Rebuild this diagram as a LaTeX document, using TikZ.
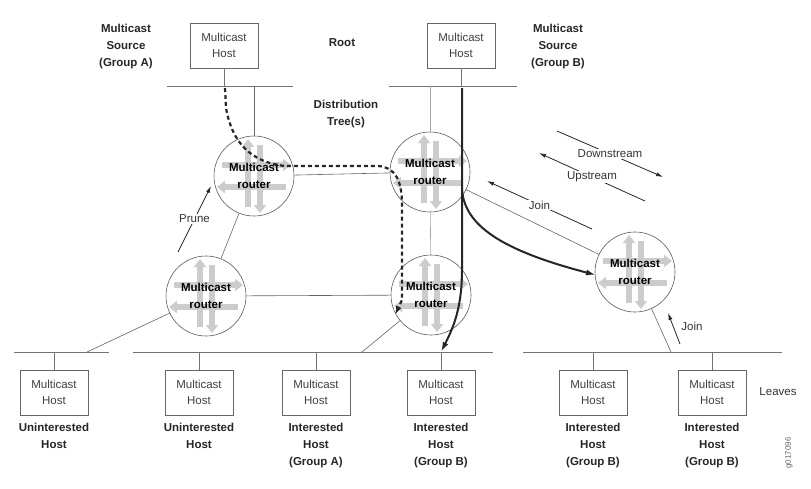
\documentclass[tikz,border=0pt]{standalone}
\usepackage{fontspec}
\setmainfont{Liberation Sans}
\usepackage{tikz}
\usetikzlibrary{arrows}
\usetikzlibrary{arrows.meta}
\usetikzlibrary{backgrounds}
\usetikzlibrary{calc}
\usetikzlibrary{positioning}

\tikzset{
  host/.style={draw=black!60, line width=0.6pt, minimum width=68pt, minimum height=45pt,
    inner sep=0pt, align=center, text=black!75, font=\fontsize{11.5}{16}\selectfont},
  router/.style={circle, draw=black!65, line width=0.6pt, minimum size=80pt, inner sep=0pt,
    align=center, font=\fontsize{11.5}{17}\selectfont\bfseries},
  lbl/.style={align=center, text=black!85, font=\fontsize{11.5}{17}\selectfont\bfseries},
  txt/.style={align=center, text=black!80, font=\fontsize{11.5}{16}\selectfont},
  lan/.style={draw=black!55, line width=0.7pt},
  link/.style={draw=black!60, line width=0.6pt},
  icon/.style={draw=black!20, line width=5.5pt, -{Triangle[length=8pt,width=12pt]}},
  dir/.style={draw=black!85, line width=0.8pt, -{Latex[length=7pt,width=4pt]}},
  grpA/.style={draw=black!85, line width=2.2pt, dash pattern=on 4pt off 3pt,
    -{Latex[length=9pt,width=6pt]}},
  grpB/.style={draw=black!85, line width=2pt, -{Latex[length=10pt,width=6pt]}}
}

\newcommand{\rtricon}[1]{
  \begin{scope}[shift={(#1)}]
    \draw[icon] (-6,31) -- (-6,-37);
    \draw[icon] (6,-31) -- (6,37);
    \draw[icon] (-32,-11) -- (37,-11);
    \draw[icon] (32,11) -- (-37,11);
  \end{scope}
}

\begin{document}
\begin{tikzpicture}[x=1pt, y=-1pt, >=latex]
\useasboundingbox (0,0) rectangle (811,488);

%Sources
\node[host] (srcA) at (224,45.5) {Multicast\\Host};
\node[host] (srcB) at (461,45.5) {Multicast\\Host};
\coordinate (lanAw) at (167,86);
\coordinate (lanAe) at (293,86);
\coordinate (lanBw) at (389,86);
\coordinate (lanBe) at (517,86);
\draw[lan] (lanAw) -- (lanAe);
\draw[lan] (lanBw) -- (lanBe);
\draw[lan] (srcA.south) -- (srcA.south |- lanAw);
\draw[lan] (srcB.south) -- (srcB.south |- lanBw);

\node[lbl] (srcAlbl) at (126,47) {Multicast\\Source\\(Group A)};
\node[lbl] (srcBlbl) at (558,47) {Multicast\\Source\\(Group B)};
\node[lbl] (root) at (342,43) {Root};
\node[lbl] (tree) at (346,114) {Distribution\\Tree(s)};

%Routers
\node[router] (r1) at (254,176) {Multicast\\router};
\node[router] (r2) at (430,172) {Multicast\\router};
\node[router] (r3) at (206,296) {Multicast\\router};
\node[router] (r4) at (431,295) {Multicast\\router};
\node[router] (r5) at (635,272) {Multicast\\router};
\begin{scope}[on background layer]
  \foreach \r in {r1,r2,r3,r4,r5} {
    \rtricon{\r}
  }
\end{scope}

\draw[link] (r1.north) -- (r1.north |- lanAw);
\draw[link, draw=black!35] (r2.north) -- (r2.north |- lanBw);
\draw[link] (r1) -- (r2);
\draw[link] (r1) -- (r3);
\draw[link] (r3) -- (r4);
\draw[link, draw=black!35] (r2) -- (r4);
\draw[link] (r2) -- (r5);

%Leaves
\coordinate (lan1w) at (14,352);
\coordinate (lan1e) at (109,352);
\coordinate (lan2w) at (133,352);
\coordinate (lan2e) at (493,352);
\coordinate (lan3w) at (523,352);
\coordinate (lan3e) at (782,352);
\draw[lan] (lan1w) -- (lan1e);
\draw[lan] (lan2w) -- (lan2e);
\draw[lan] (lan3w) -- (lan3e);

\foreach \n/\x in {1/54,2/199,3/316,4/441,5/593,6/712} {
  \node[host] (h\n) at (\x,392.5) {Multicast\\Host};
  \draw[lan] (h\n.north) -- (h\n.north |- lan1w);
}

\coordinate (t1) at (87,352);
\coordinate (t2) at (362,352);
\coordinate (t3) at (671,352);
\draw[link] (r3) -- (t1);
\draw[link] (r4) -- (t2);
\draw[link] (r5) -- (t3);

\node[lbl, anchor=north] (l1) at (54,420) {Uninterested\\Host};
\node[lbl, anchor=north] (l2) at (199,420) {Uninterested\\Host};
\node[lbl, anchor=north] (l3) at (316,420) {Interested\\Host\\(Group A)};
\node[lbl, anchor=north] (l4) at (441,420) {Interested\\Host\\(Group B)};
\node[lbl, anchor=north] (l5) at (593,420) {Interested\\Host\\(Group B)};
\node[lbl, anchor=north] (l6) at (712,420) {Interested\\Host\\(Group B)};
\node[txt] (leaves) at (778,392) {Leaves};
\node[rotate=90, text=black!60, font=\fontsize{8}{8}\selectfont] (fig) at (789,453) {g017096};

%Direction arrows
\coordinate (dsA) at (557,131);
\coordinate (dsB) at (663,177);
\coordinate (usA) at (645,201);
\coordinate (usB) at (539,153);
\coordinate (jnA) at (592,229);
\coordinate (jnB) at (487,181);
\coordinate (prA) at (178,252);
\coordinate (prB) at (211,186);
\coordinate (jn2A) at (680,344);
\coordinate (jn2B) at (668,313);
\draw[dir] (dsA) -- node[txt, fill=white, inner sep=1pt] (ds) {Downstream} (dsB);
\draw[dir] (usA) -- node[txt, fill=white, inner sep=1pt] (us) {Upstream} (usB);
\draw[dir] (jnA) -- node[txt, fill=white, inner sep=1pt] (jn) {Join} (jnB);
\draw[dir] (prA) -- node[txt, fill=white, inner sep=1pt] (pr) {Prune} (prB);
\draw[dir] (jn2A) -- (jn2B);
\node[txt] (jn2) at (692,326) {Join};

%Group A tree
\coordinate (gA0) at (225,88);
\coordinate (gA1) at (395,315);
\draw[grpA] (gA0) -- (226,108) .. controls (232,142) and (250,162) .. (285,166)
  -- (378,166) .. controls (395,167) and (402,180) .. (402,205) -- (402,300) -- (gA1);

%Group B tree
\coordinate (gB0) at (462,88);
\coordinate (gBs) at (462,190);
\coordinate (gB1) at (h4.north |- lan2w);
\coordinate (gB2) at (596,275);
\draw[grpB] (gB0) -- (462,270) .. controls (462,310) and (452,330) .. (gB1);
\draw[grpB] (gBs) .. controls (465,225) and (500,250) .. (gB2);
\end{tikzpicture}
\end{document}
